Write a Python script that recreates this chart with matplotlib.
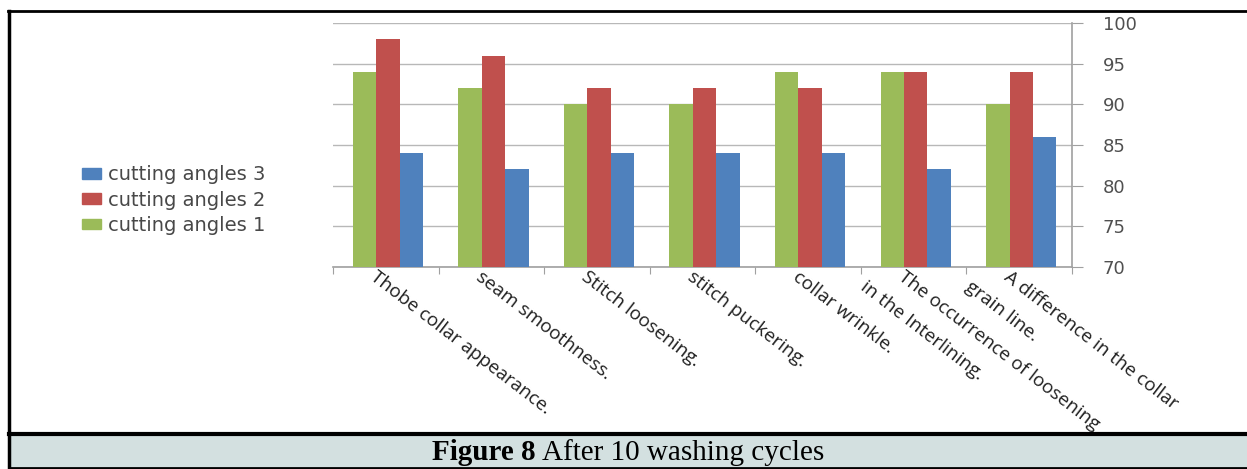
import numpy as np
import matplotlib
matplotlib.use("Agg")
import matplotlib.pyplot as plt
from matplotlib.patches import Rectangle
from matplotlib.lines import Line2D
from matplotlib.transforms import offset_copy

# categories and scores per cutting angle
categories = [
    "Thobe collar appearance.",
    "seam smoothness.",
    "Stitch loosening.",
    "stitch puckering.",
    "collar wrinkle.",
    "The occurrence of loosening\nin the Interlining.",
    "A difference in the collar\ngrain line.",
]
angles_1 = [94, 92, 90, 90, 94, 94, 90]
angles_2 = [98, 96, 92, 92, 92, 94, 94]
angles_3 = [84, 82, 84, 84, 84, 82, 86]

series_names = ["cutting angles 1", "cutting angles 2", "cutting angles 3"]
colors = ["#9bbb59", "#c0504d", "#4f81bd"]
yticks = [70, 75, 80, 85, 90, 95, 100]

W, H = 1247, 469
fig = plt.figure(figsize=(W / 100, H / 100), dpi=100)

# axes box in pixels
left, right, top, bottom = 333, 1072, 23, 267
ax = fig.add_axes([left / W, 1 - bottom / H, (right - left) / W, (bottom - top) / H])

n = len(categories)
x = np.arange(n)
bw = 0.222
for i, (vals, c) in enumerate(zip([angles_1, angles_2, angles_3], colors)):
    ax.bar(x + (i - 1) * bw + 0.02, np.array(vals) - 70, bw, bottom=70, color=c,
           label=series_names[i], zorder=3)

ax.set_xlim(-0.5, n - 0.5)
ax.set_ylim(70, 100)
ax.set_yticks(yticks)
ax.yaxis.tick_right()
ax.tick_params(axis="y", length=8, color="#a0a0a0", labelsize=13, labelcolor="#505050",
               pad=14)
for lab in ax.get_yticklabels():
    lab.set_family("DejaVu Sans")
ax.grid(axis="y", color="#b8b8b8", linewidth=1, zorder=0)

# tick marks at group boundaries, labels drawn separately
ax.set_xticks(np.arange(n + 1) - 0.5)
ax.set_xticklabels([])
ax.tick_params(axis="x", length=5, color="#a0a0a0")
for s in ["top", "left"]:
    ax.spines[s].set_visible(False)
for s in ["right", "bottom"]:
    ax.spines[s].set_color("#a0a0a0")
    ax.spines[s].set_linewidth(1.2)

# slanted category labels, each line placed on its own
for xi, lab in zip(x, categories):
    for k, line in enumerate(lab.split("\n")):
        tr = offset_copy(ax.transData, fig=fig, x=-8 - 38 * k, y=-10 * k, units="dots")
        ax.text(xi, 69.9, line, transform=tr, rotation=-37.6, rotation_mode="anchor",
                ha="left", va="top", fontsize=13.6, family="Open Sans",
                color="#202020", clip_on=False)

# legend, listed in reverse order
handles = [Rectangle((0, 0), 1, 1, color=c) for c in colors][::-1]
fig.legend(handles, series_names[::-1], loc="center left",
           bbox_to_anchor=(82 / W, 1 - 200 / H), frameon=False,
           labelcolor="#484848", handlelength=1.0, handleheight=0.45,
           handletextpad=0.35, labelspacing=0.32, borderpad=0, borderaxespad=0,
           prop={"family": "DejaVu Sans", "size": 14})

# page frame and caption band
fig.add_artist(Rectangle((9 / W, 1 - 468 / H), (W - 9) / W, 34 / H,
                         transform=fig.transFigure, facecolor="#d3e0e0",
                         edgecolor="none", zorder=0))
for xs, ys, lw in [([8, W], [11, 11], 2), ([9, 9], [11, 468], 2.5),
                   ([9, W], [434, 434], 3), ([9, W], [468, 468], 2)]:
    fig.add_artist(Line2D([v / W for v in xs], [1 - v / H for v in ys],
                          transform=fig.transFigure, color="black", linewidth=lw))

fig.text(536 / W, 1 - 460 / H, "Figure 8", ha="right", va="baseline",
         fontsize=21, fontweight="bold", family="Liberation Serif")
fig.text(542 / W, 1 - 460 / H, "After 10 washing cycles", ha="left", va="baseline",
         fontsize=21, family="Liberation Serif")

fig.savefig("out.png", dpi=100)
